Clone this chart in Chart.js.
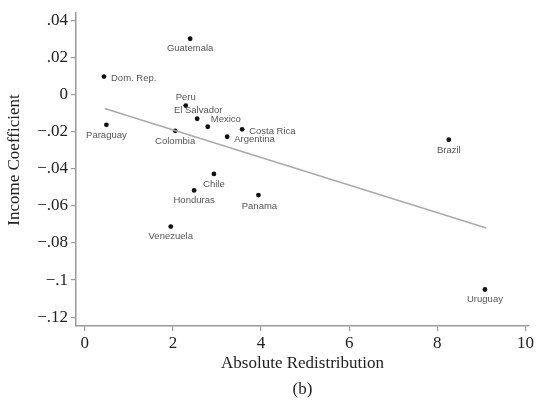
<!DOCTYPE html>
<html>
<head>
<meta charset="utf-8">
<script src="https://cdn.jsdelivr.net/npm/chart.js@4"></script>
<style>
  html, body { margin: 0; padding: 0; background: #fff; }
  #wrap { width: 536px; height: 406px; }
</style>
</head>
<body>
<div id="wrap"><canvas id="chart" width="536" height="406"></canvas></div>
<script>
// country scatter: absolute redistribution vs income coefficient
const countries = ['Guatemala', 'Dom. Rep.', 'Paraguay', 'Peru', 'El Salvador', 'Mexico', 'Colombia',
  'Costa Rica', 'Argentina', 'Chile', 'Honduras', 'Panama', 'Venezuela', 'Brazil', 'Uruguay'];
const redistribution = [2.39, 0.435, 0.49, 2.29, 2.55, 2.79, 2.05, 3.57, 3.23, 2.93, 2.48, 3.94, 1.95, 8.26, 9.08];
const incomeCoef = [0.0303, 0.0099, -0.0162, -0.0058, -0.0129, -0.0172, -0.0194, -0.0186, -0.0226,
  -0.0427, -0.0516, -0.0541, -0.0711, -0.0242, -0.1051];

// fitted line end points
const fitX = [0.45, 9.11];
const fitY = [-0.0074, -0.0719];

const xTicks = [0, 2, 4, 6, 8, 10];
const yTicks = [0.04, 0.02, 0, -0.02, -0.04, -0.06, -0.08, -0.1, -0.12];

// where each name sits relative to its dot: [dx, dy, align]
const labelPlace = [
  [0, 10, 'center'], [7, 1.5, 'left'], [0, 11, 'center'], [0, -8, 'center'], [1, -8, 'center'],
  [3, -7, 'left'], [0, 11, 'center'], [7, 2, 'left'], [7, 2.5, 'left'], [0, 10, 'center'],
  [0, 10, 'center'], [1, 11, 'center'], [0, 10, 'center'], [0, 11, 'center'], [0, 10, 'center']
];

// .04, 0, −.02 style
function fmtY(v) {
  if (Math.abs(v) < 1e-9) return '0';
  let s = Math.abs(v).toFixed(2).replace(/0+$/, '').replace(/^0/, '');
  return (v < 0 ? '\u2212' : '') + s;
}

const serif = '"Liberation Serif", "Times New Roman", serif';
const axisColor = '#9a9a9a';

const pointLabels = {
  id: 'pointLabels',
  afterDatasetsDraw(chart) {
    const meta = chart.getDatasetMeta(1);
    const ctx = chart.ctx;
    ctx.save();
    ctx.font = '9.5px "Liberation Sans", Arial, sans-serif';
    ctx.fillStyle = '#555';
    ctx.textBaseline = 'middle';
    meta.data.forEach((pt, i) => {
      const p = labelPlace[i];
      ctx.textAlign = p[2];
      ctx.fillText(countries[i], pt.x + p[0], pt.y + p[1]);
    });
    ctx.restore();
  }
};

// y title sits a little above the middle of the axis
const yTitle = {
  id: 'yTitle',
  afterDraw(chart) {
    const ctx = chart.ctx;
    ctx.save();
    ctx.translate(15, 160);
    ctx.rotate(-Math.PI / 2);
    ctx.font = '17px ' + serif;
    ctx.fillStyle = '#222';
    ctx.textAlign = 'center';
    ctx.textBaseline = 'middle';
    ctx.fillText('Income Coefficient', 0, 0);
    ctx.restore();
  }
};

new Chart(document.getElementById('chart'), {
  data: {
    datasets: [
      {
        type: 'line',
        data: fitX.map((x, i) => ({x: x, y: fitY[i]})),
        borderColor: '#aaaaaa',
        borderWidth: 1.5,
        pointRadius: 0,
        fill: false
      },
      {
        type: 'scatter',
        data: redistribution.map((x, i) => ({x: x, y: incomeCoef[i]})),
        backgroundColor: '#111',
        borderColor: '#111',
        pointRadius: 2.4,
        pointBorderWidth: 0
      }
    ]
  },
  options: {
    responsive: false,
    animation: false,
    layout: {autoPadding: false, padding: {top: 7, right: 0, left: 0, bottom: 0}},
    plugins: {legend: {display: false}, tooltip: {enabled: false}},
    scales: {
      x: {
        type: 'linear',
        min: -0.2,
        max: 10.08,
        afterBuildTicks: s => { s.ticks = xTicks.map(v => ({value: v})); },
        afterFit: s => { s.height = 80; },
        border: {color: axisColor, width: 1.5},
        grid: {drawOnChartArea: false, drawTicks: true, tickLength: 5, color: axisColor, lineWidth: 1.2},
        ticks: {color: '#222', font: {family: serif, size: 17}, padding: 2, callback: v => String(v)},
        title: {
          display: true,
          text: ['Absolute Redistribution', '(b)'],
          color: '#222',
          font: {family: serif, size: 17, lineHeight: 1.53},
          padding: {top: 0, bottom: 3}
        }
      },
      y: {
        type: 'linear',
        min: -0.1248,
        max: 0.0441,
        afterBuildTicks: s => { s.ticks = yTicks.map(v => ({value: v})); },
        afterFit: s => { s.width = 76; },
        border: {color: axisColor, width: 1.5},
        grid: {drawOnChartArea: false, drawTicks: true, tickLength: 5, color: axisColor, lineWidth: 1.2},
        ticks: {color: '#222', font: {family: serif, size: 17}, padding: 3, callback: v => fmtY(v)},
        title: {display: false}
      }
    }
  },
  plugins: [pointLabels, yTitle]
});
</script>
</body>
</html>
